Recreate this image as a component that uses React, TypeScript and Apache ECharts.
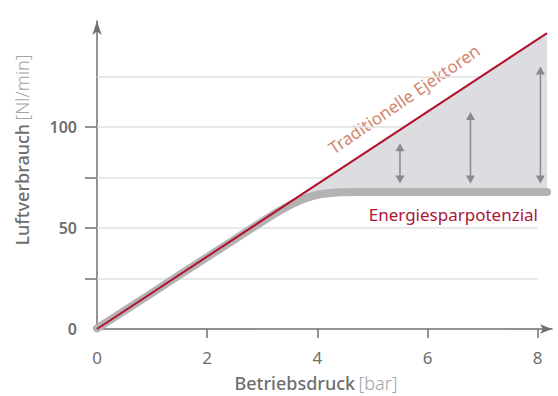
import React, { useEffect, useRef } from "react";
import * as echarts from "echarts";

// ---- data ----
const xLabelValues = [0, 2, 4, 6, 8];
const xTickValues = [2, 4, 6, 8];
const yLabelValues = [0, 50, 100];
const yTickValues = [25, 50, 75, 100];
const gridValues = [25, 50, 75, 100, 125];

// Traditionelle Ejektoren (straight line)
const redLine: number[][] = [
  [0, 0],
  [8.17, 146.5],
];

// Energiesparpotenzial curve
const grayCurve: number[][] = [
  [0, 0.3],
  [1, 17.9],
  [2, 35.6],
  [3, 53.2],
  [3.3, 58.3],
  [3.55, 62],
  [3.8, 64.9],
  [4.05, 66.7],
  [4.35, 67.6],
  [4.8, 67.8],
  [8.17, 67.8],
];

// double-headed arrows: x, top, bottom
const arrowX = [5.5, 6.78, 8.05];
const arrowTop = [92, 107.5, 130];
const arrowBottom = [72, 72, 72];

const shadeStartX = 3.7;

const FONT = "'Noto Sans', 'Open Sans', sans-serif";

function interp(pts: number[][], x: number): number {
  for (let i = 0; i < pts.length - 1; i++) {
    const [x0, y0] = pts[i];
    const [x1, y1] = pts[i + 1];
    if (x >= x0 && x <= x1) return y0 + ((y1 - y0) * (x - x0)) / (x1 - x0);
  }
  return pts[pts.length - 1][1];
}

export default function App() {
  const ref = useRef<HTMLDivElement>(null);

  useEffect(() => {
    document.body.style.margin = "0";
    if (!ref.current) return;
    const chart = echarts.init(ref.current, null, { renderer: "svg" });

    const xEnd = redLine[redLine.length - 1][0];
    const shadeUpper = [
      [shadeStartX, interp(redLine, shadeStartX)],
      [xEnd, interp(redLine, xEnd)],
    ];
    const shadeLower = [
      [shadeStartX, interp(grayCurve, shadeStartX)],
      ...grayCurve.filter((p) => p[0] > shadeStartX),
    ].reverse();
    const shadePoly = [...shadeUpper, ...shadeLower];

    const arrowData = arrowX.map((x, i) => [x, arrowTop[i], arrowBottom[i]]);

    const option: any = {
      animation: false,
      grid: { left: 97, right: 6, top: 21, bottom: 67 },
      xAxis: {
        type: "value",
        min: 0,
        max: 8.26,
        splitLine: { show: false },
        axisLine: {
          onZero: false,
          lineStyle: { color: "#6f6f6f", width: 1.5 },
          symbol: ["none", "arrow"],
          symbolSize: [7, 12],
        },
        axisTick: {
          customValues: xTickValues,
          length: 9,
          lineStyle: { color: "#6f6f6f", width: 1.5 },
        },
        axisLabel: {
          customValues: xLabelValues,
          margin: 20,
          color: "#6e6e6e",
          fontSize: 17,
          fontFamily: FONT,
        },
      },
      yAxis: {
        type: "value",
        min: 0,
        max: 152.5,
        splitLine: { show: false },
        axisLine: {
          lineStyle: { color: "#6f6f6f", width: 1.5 },
          symbol: ["none", "arrow"],
          symbolSize: [7, 14],
        },
        axisTick: {
          customValues: yTickValues,
          length: 12,
          lineStyle: { color: "#6f6f6f", width: 1.5 },
        },
        axisLabel: {
          customValues: yLabelValues,
          margin: 20,
          color: "#6e6e6e",
          fontSize: 16,
          fontWeight: 600,
          fontFamily: FONT,
          padding: [0, 0, 9, 0],
        },
      },
      series: [
        {
          type: "line",
          data: [],
          silent: true,
          z: 1,
          markLine: {
            z: 1,
            silent: true,
            symbol: ["none", "none"],
            label: { show: false },
            lineStyle: { color: "#e1e1e1", width: 1.5, type: "solid" },
            data: gridValues.map((v) => [
              { coord: [0, v] },
              { coord: [8, v] },
            ]),
          },
        },
        {
          type: "custom",
          z: 2,
          silent: true,
          data: [[shadeStartX, 0]],
          encode: { x: 0, y: 1 },
          renderItem: (params: any, api: any) => ({
            type: "polygon",
            shape: { points: shadePoly.map((p) => api.coord(p)) },
            style: { fill: "#dcdde0" },
          }),
        },
        {
          type: "custom",
          z: 3,
          silent: true,
          data: arrowData,
          encode: { x: 0, y: [1, 2] },
          renderItem: (params: any, api: any) => {
            const x = api.value(0);
            const pt = api.coord([x, api.value(1)]);
            const pb = api.coord([x, api.value(2)]);
            const c = "#8a8a8a";
            const h = 8;
            const w = 4.5;
            return {
              type: "group",
              children: [
                {
                  type: "line",
                  shape: { x1: pt[0], y1: pt[1] + h - 1, x2: pb[0], y2: pb[1] - h + 1 },
                  style: { stroke: c, lineWidth: 1.5 },
                },
                {
                  type: "polygon",
                  shape: { points: [[pt[0], pt[1]], [pt[0] - w, pt[1] + h], [pt[0] + w, pt[1] + h]] },
                  style: { fill: c },
                },
                {
                  type: "polygon",
                  shape: { points: [[pb[0], pb[1]], [pb[0] - w, pb[1] - h], [pb[0] + w, pb[1] - h]] },
                  style: { fill: c },
                },
              ],
            };
          },
        },
        {
          type: "line",
          z: 4,
          silent: true,
          data: grayCurve,
          smooth: 0.2,
          showSymbol: false,
          lineStyle: { color: "#b3b3b3", width: 8, cap: "round", join: "round" },
        },
        {
          type: "line",
          z: 5,
          silent: true,
          data: redLine,
          showSymbol: false,
          lineStyle: { color: "#b3122f", width: 2 },
        },
      ],
      graphic: [
        {
          type: "text",
          x: 22,
          y: 150,
          rotation: Math.PI / 2,
          style: {
            text: "{a|Luftverbrauch} {b|[Nl/min]}",
            align: "center",
            verticalAlign: "middle",
            rich: {
              a: { fontSize: 18, fontWeight: 500, fill: "#6e6e6e", fontFamily: FONT },
              b: { fontSize: 18, fontWeight: 300, fill: "#a3a3a3", fontFamily: FONT },
            },
          },
        },
        {
          type: "text",
          x: 316,
          y: 383,
          style: {
            text: "{a|Betriebsdruck} {b|[bar]}",
            align: "center",
            verticalAlign: "middle",
            rich: {
              a: { fontSize: 18, fontWeight: 500, fill: "#6e6e6e", fontFamily: FONT },
              b: { fontSize: 18, fontWeight: 300, fill: "#a3a3a3", fontFamily: FONT },
            },
          },
        },
        {
          type: "text",
          x: 404,
          y: 99,
          rotation: 0.6,
          style: {
            text: "Traditionelle Ejektoren",
            align: "center",
            verticalAlign: "middle",
            fontSize: 17,
            fontFamily: FONT,
            fill: "#d3856d",
          },
        },
        {
          type: "text",
          x: 538,
          y: 214,
          style: {
            text: "Energiesparpotenzial",
            align: "right",
            verticalAlign: "middle",
            fontSize: 17,
            fontWeight: 400,
            fontFamily: FONT,
            fill: "#ad1538",
          },
        },
      ],
    };

    chart.setOption(option);
    return () => chart.dispose();
  }, []);

  return <div ref={ref} style={{ width: 558, height: 396 }} />;
}
